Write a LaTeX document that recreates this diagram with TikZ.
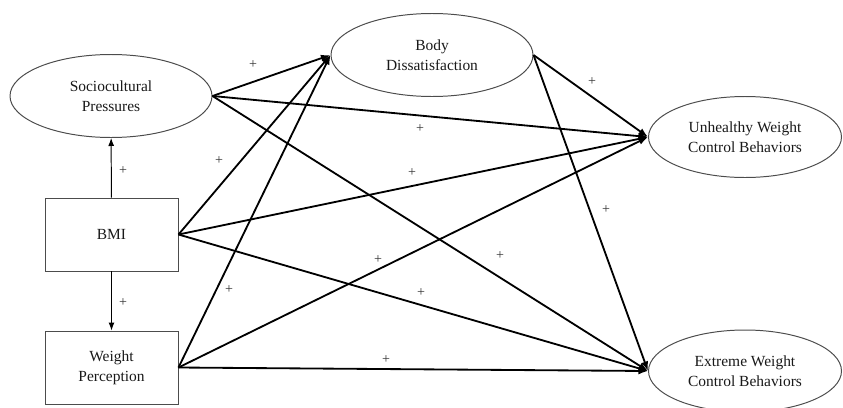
\documentclass[tikz,border=0pt]{standalone}
\usepackage{fontspec}
\setmainfont{Liberation Serif}
\usetikzlibrary{shapes.geometric,arrows.meta}

\begin{document}
\begin{tikzpicture}[
  latent/.style={ellipse,draw=black!70,line width=0.7pt,minimum width=5.05cm,
    minimum height=2.075cm,inner sep=0pt,align=center,
    font=\fontsize{11}{14}\selectfont,text=black!90},
  observed/.style={rectangle,draw=black!70,line width=0.7pt,minimum width=3.325cm,
    minimum height=1.825cm,inner sep=0pt,align=center,
    font=\fontsize{11}{14}\selectfont,text=black!90},
  effect/.style={-{Latex[length=2.4mm,width=1.8mm]},line width=1.3pt},
  link/.style={-{Latex[length=2mm,width=1.5mm]},line width=0.7pt},
  plus/.style={font=\fontsize{10}{11}\selectfont,text=black!80,inner sep=0pt}
]
  \useasboundingbox (0,0) rectangle (21.075,10.175);

  % Predictors on the left
  \node[latent] (socio) at (2.775,7.775) {Sociocultural\\Pressures};
  \node[observed] (bmi) at (2.7875,4.3125) {BMI};
  \node[observed] (wp) at (2.7875,0.9875) {Weight\\Perception};

  % Mediator at the top
  \node[latent] (bd) at (10.8,8.8) {Body\\Dissatisfaction};

  % Outcomes on the right
  \node[latent,minimum width=4.825cm,minimum height=2.025cm] (uwcb) at (18.625,6.75) {Unhealthy Weight\\Control Behaviors};
  \node[latent,minimum width=4.825cm,minimum height=2.05cm] (ewcb) at (18.625,0.9) {Extreme Weight\\Control Behaviors};

  % BMI to the other predictors
  \draw[link] (bmi) -- (socio);
  \draw[link] (bmi) -- (wp);
  \node[plus] (p1) at (3.075,5.9) {+};
  \node[plus] (p2) at (3.075,2.6) {+};

  % Paths into body dissatisfaction
  \draw[effect] (socio.east) -- (bd.west);
  \draw[effect] (bmi.east) -- (bd.west);
  \draw[effect] (wp.east) -- (bd.west);
  \node[plus] (p3) at (6.325,8.55) {+};
  \node[plus] (p4) at (5.475,6.15) {+};
  \node[plus] (p5) at (5.725,2.925) {+};

  % Paths into unhealthy weight control behaviors
  \draw[effect] (socio.east) -- (uwcb.west);
  \draw[effect] (bmi.east) -- (uwcb.west);
  \draw[effect] (wp.east) -- (uwcb.west);
  \draw[effect] (bd.east) -- (uwcb.west);
  \node[plus] (p6) at (10.5,6.95) {+};
  \node[plus] (p7) at (10.3,5.85) {+};
  \node[plus] (p8) at (9.45,3.675) {+};
  \node[plus] (p9) at (14.8,8.125) {+};

  % Paths into extreme weight control behaviors
  \draw[effect] (socio.east) -- (ewcb.west);
  \draw[effect] (bmi.east) -- (ewcb.west);
  \draw[effect] (wp.east) -- (ewcb.west);
  \draw[effect] (bd.east) -- (ewcb.west);
  \node[plus] (p10) at (12.5,3.775) {+};
  \node[plus] (p11) at (10.525,2.85) {+};
  \node[plus] (p12) at (9.65,1.175) {+};
  \node[plus] (p13) at (15.15,4.925) {+};
\end{tikzpicture}
\end{document}
